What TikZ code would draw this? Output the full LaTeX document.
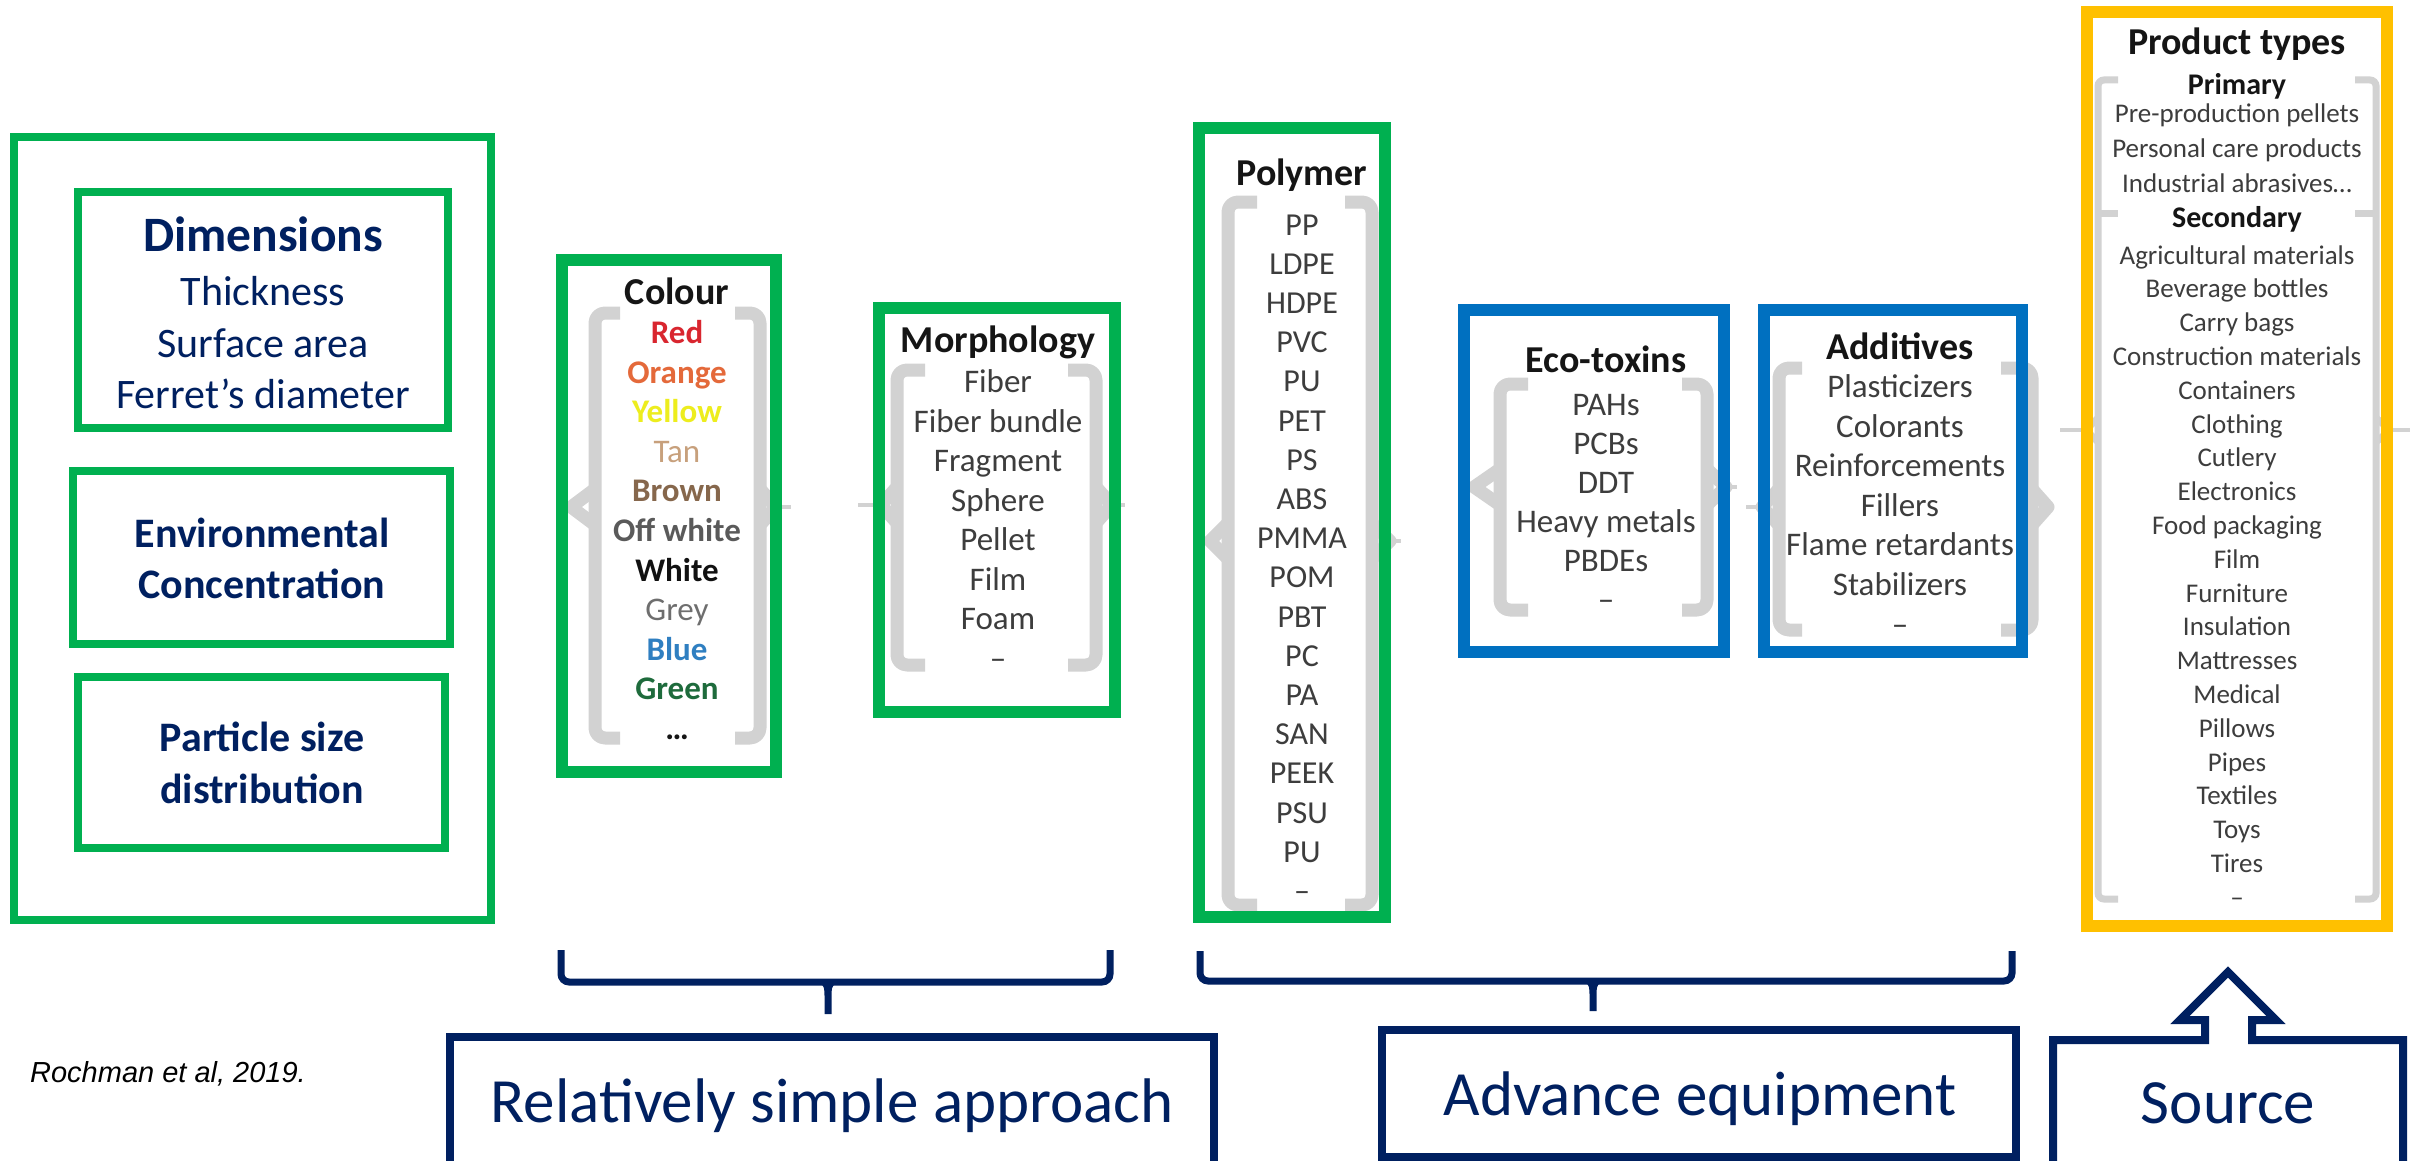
\documentclass[tikz,border=0pt]{standalone}
\usepackage{fontspec}
\setmainfont{Carlito}
\newfontfamily\citefont{Liberation Sans}

\definecolor{navy}{HTML}{002060}
\definecolor{pgreen}{HTML}{00B050}
\definecolor{pblue}{HTML}{0070C0}
\definecolor{pgold}{HTML}{FFC000}
\definecolor{bracegrey}{HTML}{D2D2D2}
\definecolor{itemgrey}{HTML}{3D3D3D}
\definecolor{titleblack}{HTML}{151515}
\definecolor{cRed}{HTML}{D9262F}
\definecolor{cOrange}{HTML}{E4693A}
\definecolor{cYellow}{HTML}{EDED1E}
\definecolor{cTan}{HTML}{C7A07C}
\definecolor{cBrown}{HTML}{86674C}
\definecolor{cOffwhite}{HTML}{5A5A5A}
\definecolor{cWhite}{HTML}{111111}
\definecolor{cGrey}{HTML}{6E6E6E}
\definecolor{cBlue}{HTML}{2F7FC1}
\definecolor{cGreen}{HTML}{1E6B3C}

% font size given in pt (1 px of the layout grid = 0.5 pt)
\newcommand\pxfont[1]{\fontsize{#1}{#1}\selectfont}

% grey bracket: #1 x of the stem, #2 x of the serif ends, #3 top y, #4 bottom y, #5 y of the point, #6 x of the point
\newcommand\greybrace[6]{%
  \draw[greybrace,rounded corners=5pt] (#2,#3) -- (#1,#3) -- (#1,#4) -- (#2,#4);
  \draw[greybrace] (#1,#5-18) -- (#6,#5) -- (#1,#5+18);}

% centre spike of a navy brace: #1 x, #2 y of the bar, #3 y of the spike end
\newcommand\navytick[3]{%
  \fill[navy] (#1-8,#2+2) .. controls (#1-3.5,#2+3) and (#1-3.5,#2+8) .. (#1-3.5,#2+14)
    -- (#1-3.5,#3) -- (#1+3.5,#3) -- (#1+3.5,#2+14)
    .. controls (#1+3.5,#2+8) and (#1+3.5,#2+3) .. (#1+8,#2+2) -- cycle;}

\begin{document}
\begin{tikzpicture}[x=0.5pt,y=-0.5pt,
  greybrace/.style={draw=bracegrey,line width=6.5pt,line join=round},
  thinbrace/.style={draw=bracegrey,line width=3.5pt},
  stub/.style={draw=bracegrey,line width=2pt},
  leftframe/.style={draw=pgreen,line width=4pt},
  greenframe/.style={draw=pgreen,line width=6pt},
  blueframe/.style={draw=pblue,line width=6pt},
  goldframe/.style={draw=pgold,line width=6pt},
  navyframe/.style={draw=navy,line width=4pt,line join=miter},
  navybrace/.style={draw=navy,line width=3.5pt,rounded corners=4pt},
  lefttitle/.style={anchor=base,inner sep=0pt,text=navy,font=\pxfont{24.75}\bfseries},
  leftitem/.style={anchor=base,inner sep=0pt,text=navy,font=\pxfont{21}},
  leftbold/.style={anchor=base,inner sep=0pt,text=navy,font=\pxfont{21}\bfseries},
  ptitle/.style={anchor=base,inner sep=0pt,text=titleblack,font=\pxfont{19}\bfseries},
  pitem/.style={anchor=base,inner sep=0pt,text=itemgrey,font=\pxfont{16.5}},
  citem/.style={anchor=base,inner sep=0pt,font=\pxfont{16.5}\bfseries},
  polyitem/.style={anchor=base,inner sep=0pt,text=itemgrey,font=\pxfont{16}},
  prodsub/.style={anchor=base,inner sep=0pt,text=titleblack,font=\pxfont{15}\bfseries},
  proditem/.style={anchor=base,inner sep=0pt,text=itemgrey,font=\pxfont{13.5}},
  labeltext/.style={anchor=base,inner sep=0pt,text=navy,font=\pxfont{31.5}},
  citetext/.style={anchor=base,inner sep=0pt,text=black,font=\citefont\itshape\pxfont{14.5}}]

\useasboundingbox (0,0) rectangle (2413,1161);
\clip (0,0) rectangle (2413,1161);
\fill[white] (0,0) rectangle (2413,1161);

% ---------- grey brackets and connector stubs ----------
% Colour
\greybrace{595}{620}{313}{738}{507}{571}
\greybrace{760}{735}{313}{738}{507}{776}
\draw[stub] (776,507) -- (791,507);
% Morphology
\greybrace{897}{925}{370}{665}{505}{881}
\greybrace{1096}{1068}{370}{665}{505}{1112}
\draw[stub] (858,505) -- (881,505);
\draw[stub] (1112,505) -- (1125,505);
% Polymer
\greybrace{1228}{1257}{202}{905}{541}{1210}
\greybrace{1372}{1345}{202}{905}{541}{1390}
\draw[stub] (1390,541) -- (1401,541);
% Eco-toxins
\greybrace{1500}{1528}{384}{610}{487}{1474}
\greybrace{1707}{1682}{384}{610}{487}{1726}
\draw[stub] (1726,487) -- (1737,487);
% Additives
\greybrace{1779}{1802}{368}{630}{507}{1762}
\greybrace{2032}{2001}{368}{630}{507}{2048}
\draw[stub] (1746,507) -- (1762,507);
% Product types
\draw[thinbrace,rounded corners=3pt] (2118,80) -- (2098,80) -- (2098,899) -- (2118,899);
\draw[thinbrace,rounded corners=3pt] (2355,80) -- (2376,80) -- (2376,899) -- (2355,899);
\draw[thinbrace] (2098,213) -- (2118,213);
\draw[thinbrace] (2376,213) -- (2355,213);
\draw[thinbrace] (2098,418) -- (2086,430) -- (2098,442);
\draw[thinbrace] (2376,418) -- (2390,430) -- (2376,442);
\draw[stub] (2060,430) -- (2086,430);
\draw[stub] (2390,430) -- (2410,430);

% ---------- left column ----------
\node[lefttitle] (dim) at (263,251) {Dimensions};
\node[leftitem] (thick) at (263,305) {Thickness};
\node[leftitem] (surf) at (263,357) {Surface area};
\node[leftitem] (feret) at (263,408) {Ferret’s diameter};
\node[leftbold] (env1) at (262,547) {Environmental};
\node[leftbold] (env2) at (262,598) {Concentration};
\node[leftbold] (psd1) at (262,751) {Particle size};
\node[leftbold] (psd2) at (262,803) {distribution};

% ---------- Colour ----------
\node[ptitle] (colt) at (677,304) {Colour};
\node[citem,text=cRed] (col0) at (677,343.5) {Red};
\node[citem,text=cOrange] (col1) at (677,383.1) {Orange};
\node[citem,text=cYellow] (col2) at (677,422.7) {Yellow};
\node[pitem,text=cTan] (col3) at (677,462.3) {Tan};
\node[citem,text=cBrown] (col4) at (677,501.9) {Brown};
\node[citem,text=cOffwhite] (col5) at (677,541.5) {Off white};
\node[citem,text=cWhite] (col6) at (677,581.1) {White};
\node[pitem,text=cGrey] (col7) at (677,620.7) {Grey};
\node[citem,text=cBlue] (col8) at (677,660.3) {Blue};
\node[citem,text=cGreen] (col9) at (677,699.9) {Green};
\node[citem,text=titleblack] (col10) at (677,739.5) {\ldots};

% ---------- Morphology ----------
\node[ptitle] (mort) at (998,352) {Morphology};
\foreach \t [count=\i from 0] in {Fiber,Fiber bundle,Fragment,Sphere,Pellet,Film,Foam,–}
  \node[pitem] (mor\i) at (998,{392.5+39.5*\i}) {\t};

% ---------- Polymer ----------
\node[ptitle] (polt) at (1302,185) {Polymer};
\foreach \t [count=\i from 0] in {PP,LDPE,HDPE,PVC,PU,PET,PS,ABS,PMMA,POM,PBT,PC,PA,SAN,PEEK,PSU,PU,–}
  \node[polyitem] (pol\i) at (1302,{235+39.2*\i}) {\t};

% ---------- Eco-toxins ----------
\node[ptitle] (ecot) at (1606,372) {Eco-toxins};
\foreach \t [count=\i from 0] in {PAHs,PCBs,DDT,Heavy metals,PBDEs,–}
  \node[pitem] (eco\i) at (1606,{415.5+38.9*\i}) {\t};

% ---------- Additives ----------
\node[ptitle] (addt) at (1900,359) {Additives};
\foreach \t [count=\i from 0] in {Plasticizers,Colorants,Reinforcements,Fillers,Flame retardants,Stabilizers,–}
  \node[pitem] (add\i) at (1900,{397.5+39.6*\i}) {\t};

% ---------- Product types ----------
\node[ptitle] (prodt) at (2237,55) {Product types};
\node[prodsub] (prim) at (2237,95) {Primary};
\foreach \t [count=\i from 0] in {Pre-production pellets,Personal care products,{Industrial abrasives\ldots}}
  \node[proditem] (pri\i) at (2237,{122+35*\i}) {\t};
\node[prodsub] (sec) at (2237,227) {Secondary};
\foreach \t [count=\i from 0] in {Agricultural materials,Beverage bottles,Carry bags,Construction materials,Containers,Clothing,Cutlery,Electronics,Food packaging,Film,Furniture,Insulation,Mattresses,Medical,Pillows,Pipes,Textiles,Toys,Tires,–}
  \node[proditem] (sec\i) at (2237,{264+33.8*\i}) {\t};

% ---------- frames ----------
\draw[leftframe] (14,137) rectangle (491,920);
\draw[leftframe] (78,192) rectangle (448,428);
\draw[leftframe] (73,471) rectangle (450,644);
\draw[leftframe] (78,677) rectangle (445,848);
\draw[greenframe] (562,260) rectangle (776,772);
\draw[greenframe] (879,308) rectangle (1115,712);
\draw[greenframe] (1199,128) rectangle (1385,917);
\draw[blueframe] (1464,310) rectangle (1724,652);
\draw[blueframe] (1764,310) rectangle (2022,652);
\draw[goldframe] (2087,12) rectangle (2387,926);

% ---------- navy braces grouping the panels ----------
\coordinate (b1l) at (561,950);
\coordinate (b1r) at (1110,950);
\coordinate (b2l) at (1200,951);
\coordinate (b2r) at (2012,951);
\draw[navybrace] (b1l) -- (561,982) -- (1110,982) -- (b1r);
\navytick{828}{982}{1014}
\draw[navybrace] (b2l) -- (1200,981) -- (2012,981) -- (b2r);
\navytick{1593}{981}{1011}

% ---------- label boxes ----------
\draw[navyframe] (450,1037) rectangle (1214,1175);
\node[labeltext] (simple) at (832,1122) {Relatively simple approach};
\draw[navyframe] (1382,1030) rectangle (2016,1157);
\node[labeltext] (advance) at (1700,1115) {Advance equipment};
\draw[navyframe] (2053,1175) -- (2053,1040) -- (2205,1040) -- (2205,1020) -- (2180,1020)
  -- (2228,972) -- (2276,1020) -- (2252,1020) -- (2252,1040) -- (2403,1040) -- (2403,1175);
\node[labeltext] (source) at (2228,1123) {Source};

% ---------- citation ----------
\node[citetext] (cite) at (168,1082) {Rochman et al, 2019.};
\end{tikzpicture}
\end{document}
